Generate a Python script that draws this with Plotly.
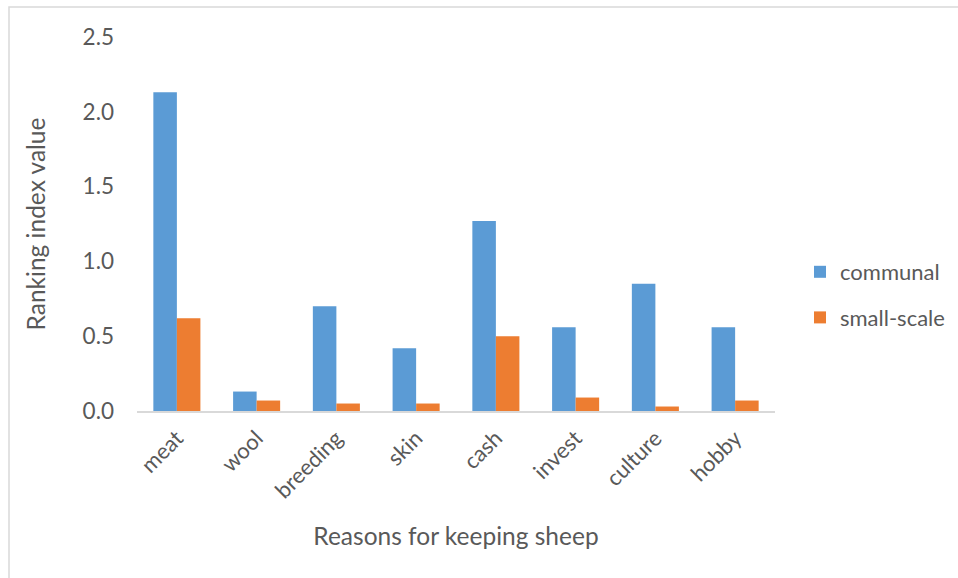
import plotly.graph_objects as go

categories = ["meat", "wool", "breeding", "skin", "cash", "invest", "culture", "hobby"]
communal = [2.13, 0.13, 0.70, 0.42, 1.27, 0.56, 0.85, 0.56]
small_scale = [0.62, 0.07, 0.05, 0.05, 0.50, 0.09, 0.03, 0.07]
y_ticks = [0.0, 0.5, 1.0, 1.5, 2.0, 2.5]
y_tick_labels = ["0.0", "0.5", "1.0", "1.5", "2.0", "2.5"]

FONT = "Lato, 'Open Sans', sans-serif"
TXT = "#595959"

fig = go.Figure()
fig.add_trace(go.Bar(x=categories, y=communal, name="communal",
                     marker=dict(color="#5B9BD5", line=dict(width=0)),
                     legendgroup="a"))
fig.add_trace(go.Bar(x=categories, y=small_scale, name="small-scale",
                     marker=dict(color="#ED7D31", line=dict(width=0)),
                     legendgroup="b"))

W, H = 958, 578
L, R, T, B = 137, 183, 37, 167
pw = W - L - R
ph = H - T - B

fig.update_layout(
    width=W, height=H,
    margin=dict(l=L, r=R, t=T, b=B, pad=0, autoexpand=False),
    paper_bgcolor="white", plot_bgcolor="white",
    barmode="group", bargap=0.41, bargroupgap=0,
    font=dict(family=FONT, color=TXT, size=22),
    showlegend=True,
    legend=dict(x=(800 - L) / pw, y=(411 - 251) / ph, xanchor="left", yanchor="top",
                font=dict(size=22, color=TXT), tracegroupgap=14,
                traceorder="grouped", itemwidth=30, bgcolor="rgba(0,0,0,0)"),
    xaxis=dict(showline=True, linecolor="#d9d9d9", linewidth=1.5,
               showgrid=False, ticks="", tickangle=-45,
               tickfont=dict(size=22, color=TXT),
               ticklabelstandoff=4,
               title=dict(text="Reasons for keeping sheep", font=dict(size=24.5, color=TXT),
                          standoff=26)),
    yaxis=dict(range=[0, 2.5], tickvals=y_ticks, ticktext=y_tick_labels,
               showline=False, showgrid=False, zeroline=False, ticks="",
               tickfont=dict(size=22.5, color=TXT),
               ticklabelstandoff=22,
               title=dict(text="Ranking index value", font=dict(size=24.5, color=TXT),
                          standoff=30)),
)

fig.add_shape(type="rect", xref="paper", yref="paper",
              x0=(9 - L) / pw, x1=1.5, y0=-1.0, y1=(411 - 7) / ph,
              line=dict(color="#d9d9d9", width=1.5), fillcolor="rgba(0,0,0,0)",
              layer="below")

fig.write_html("out.html")
